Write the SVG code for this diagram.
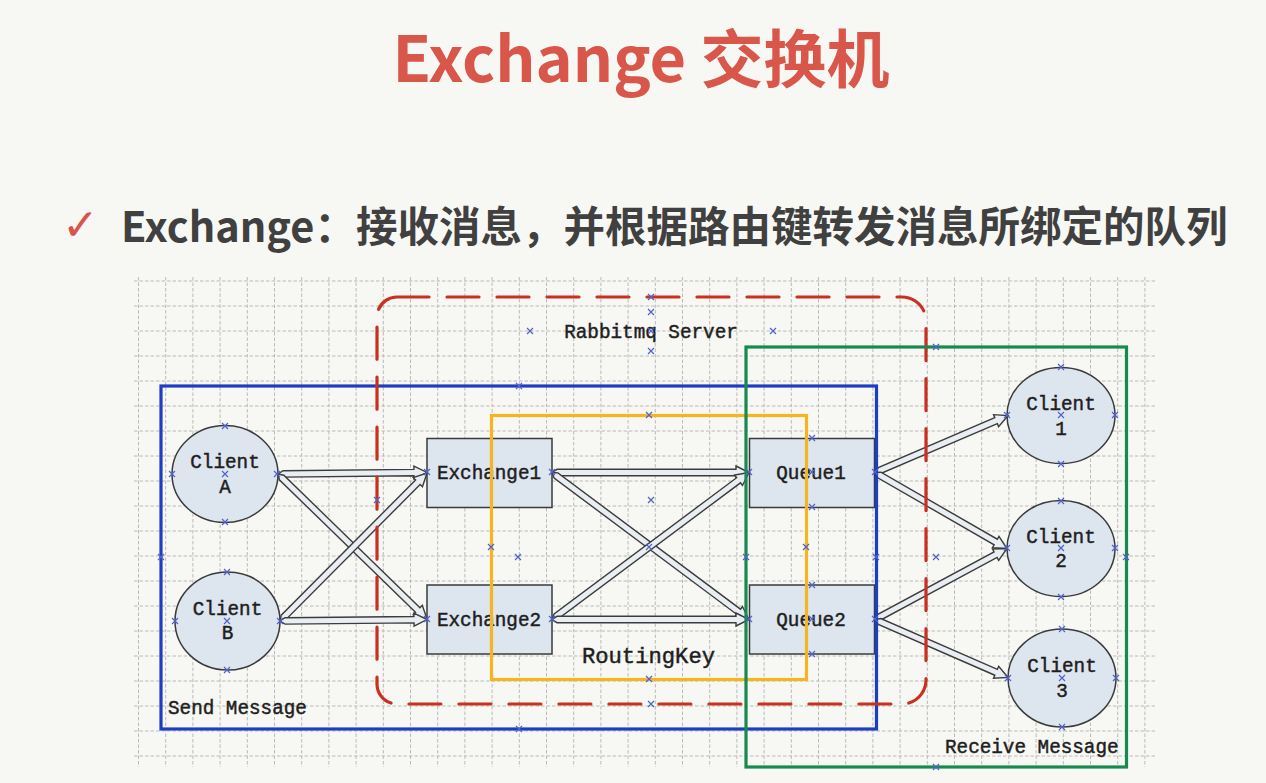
<svg xmlns="http://www.w3.org/2000/svg" xmlns:xlink="http://www.w3.org/1999/xlink" width="1266" height="783" viewBox="0 0 1266 783">
  <style>
    .title { font-family: "Noto Sans CJK SC", "Noto Sans", sans-serif; font-weight: 700; }
    .lbl { font-family: "Liberation Mono", "DejaVu Sans Mono", monospace; font-size: 19.3px; fill: #1e1e1e; stroke: #1e1e1e; stroke-width: 0.45px; }
    .grid { fill: none; stroke: #bababa; stroke-width: 1; stroke-dasharray: 3.5 2; }
    .node { fill: #dde5ee; stroke: #3a3a3a; stroke-width: 1.5; }
    .arrow { fill: #e9eef3; stroke: #3c3c3c; stroke-width: 1.4; stroke-linejoin: miter; }
    .frame { fill: none; stroke-width: 3.2; }
    .mk { fill: none; stroke: #5062cc; stroke-width: 1.2; }
  </style>
  <defs>
    <path id="mk" class="mk" d="M-3,-3L3,3M3,-3L-3,3"/>
  </defs>

  <rect width="1266" height="783" fill="#f7f7f3"/>

  <!-- headings -->
  <g id="heading">
    <text class="title" x="641" y="82" font-size="63" fill="#d9564a" text-anchor="middle">Exchange 交换机</text>
  </g>
  <g id="bullet">
    <text x="62" y="240" font-family="DejaVu Sans, sans-serif" font-size="44" fill="#d9534f">✓</text>
    <text class="title" x="121" y="242" font-size="41.5" fill="#404040">Exchange：接收消息，并根据路由键转发消息所绑定的队列</text>
  </g>

  <!-- dashed grid -->
  <g id="grid">
    <path class="grid" d="M138.5,277V767M165.7,277V767M192.9,277V767M220.1,277V767M247.3,277V767M274.5,277V767M301.7,277V767M328.9,277V767M356.1,277V767M383.3,277V767M410.5,277V767M437.7,277V767M464.9,277V767M492.1,277V767M519.3,277V767M546.5,277V767M573.7,277V767M600.9,277V767M628.1,277V767M655.3,277V767M682.5,277V767M709.7,277V767M736.9,277V767M764.1,277V767M791.3,277V767M818.5,277V767M845.7,277V767M872.9,277V767M900.1,277V767M927.3,277V767M954.5,277V767M981.7,277V767M1008.9,277V767M1036.1,277V767M1063.3,277V767M1090.5,277V767M1117.7,277V767M1144.9,277V767"/>
    <path class="grid" d="M134,281H1156M134,306H1156M134,331H1156M134,356H1156M134,381H1156M134,406H1156M134,431H1156M134,456H1156M134,481H1156M134,506H1156M134,531H1156M134,556H1156M134,581H1156M134,606H1156M134,631H1156M134,656H1156M134,681H1156M134,706H1156M134,731H1156M134,756H1156"/>
  </g>

  <!-- senders -->
  <g id="client-a">
    <ellipse class="node" cx="225" cy="474" rx="53" ry="48.5"/>
    <text class="lbl" x="225" y="468" text-anchor="middle">Client</text>
    <text class="lbl" x="225" y="493" text-anchor="middle">A</text>
  </g>
  <g id="client-b">
    <ellipse class="node" cx="227.5" cy="621" rx="52.5" ry="49"/>
    <text class="lbl" x="227.5" y="615" text-anchor="middle">Client</text>
    <text class="lbl" x="227.5" y="639" text-anchor="middle">B</text>
  </g>

  <!-- exchanges -->
  <g id="exchange1">
    <rect class="node" x="427" y="438.5" width="125" height="69"/>
    <text class="lbl" x="489" y="479" text-anchor="middle">Exchange1</text>
  </g>
  <g id="exchange2">
    <rect class="node" x="427" y="585" width="125" height="69"/>
    <text class="lbl" x="489" y="626" text-anchor="middle">Exchange2</text>
  </g>

  <!-- queues -->
  <g id="queue1">
    <rect class="node" x="749.5" y="438.5" width="125" height="69"/>
    <text class="lbl" x="811" y="479" text-anchor="middle">Queue1</text>
  </g>
  <g id="queue2">
    <rect class="node" x="749.5" y="585" width="125" height="69"/>
    <text class="lbl" x="811" y="626" text-anchor="middle">Queue2</text>
  </g>

  <!-- receivers -->
  <g id="client-1">
    <ellipse class="node" cx="1061" cy="415.5" rx="54" ry="48"/>
    <text class="lbl" x="1061" y="410" text-anchor="middle">Client</text>
    <text class="lbl" x="1061" y="435" text-anchor="middle">1</text>
  </g>
  <g id="client-2">
    <ellipse class="node" cx="1061" cy="548.5" rx="54" ry="48"/>
    <text class="lbl" x="1061" y="543" text-anchor="middle">Client</text>
    <text class="lbl" x="1061" y="567" text-anchor="middle">2</text>
  </g>
  <g id="client-3">
    <ellipse class="node" cx="1062" cy="678" rx="54" ry="49"/>
    <text class="lbl" x="1062" y="672" text-anchor="middle">Client</text>
    <text class="lbl" x="1062" y="697" text-anchor="middle">3</text>
  </g>

  <!-- hollow block arrows, each drawn along +x then placed -->
  <g id="connectors">
    <path class="arrow" transform="translate(278,474) rotate(-0.58)" d="M0,0L5,-3.2H136V-6.5L149,0L136,6.5V3.2H5Z"/>
    <path class="arrow" transform="translate(278,474) rotate(44.22)" d="M0,0L5,-3.2H195V-6.5L208,0L195,6.5V3.2H5Z"/>
    <path class="arrow" transform="translate(280,621) rotate(-45.19)" d="M0,0L5,-3.2H195.6V-6.5L208.6,0L195.6,6.5V3.2H5Z"/>
    <path class="arrow" transform="translate(280,621) rotate(-0.58)" d="M0,0L5,-3.2H134V-6.5L147,0L134,6.5V3.2H5Z"/>
    <path class="arrow" transform="translate(552,472.5)" d="M0,0L5,-3.2H184V-6.5L197,0L184,6.5V3.2H5Z"/>
    <path class="arrow" transform="translate(552,472.5) rotate(36.73)" d="M0,0L5,-3.2H232.8V-6.5L245.8,0L232.8,6.5V3.2H5Z"/>
    <path class="arrow" transform="translate(552,619.5) rotate(-36.73)" d="M0,0L5,-3.2H232.8V-6.5L245.8,0L232.8,6.5V3.2H5Z"/>
    <path class="arrow" transform="translate(552,619.5)" d="M0,0L5,-3.2H184V-6.5L197,0L184,6.5V3.2H5Z"/>
    <path class="arrow" transform="translate(875,472.5) rotate(-23.2)" d="M0,0L5,-3.2H131.7V-6.5L144.7,0L131.7,6.5V3.2H5Z"/>
    <path class="arrow" transform="translate(875,472.5) rotate(29.93)" d="M0,0L5,-3.2H139.3V-6.5L152.3,0L139.3,6.5V3.2H5Z"/>
    <path class="arrow" transform="translate(875,619.5) rotate(-28.27)" d="M0,0L5,-3.2H136.9V-6.5L149.9,0L136.9,6.5V3.2H5Z"/>
    <path class="arrow" transform="translate(875,619.5) rotate(23.56)" d="M0,0L5,-3.2H132.1V-6.5L145.1,0L132.1,6.5V3.2H5Z"/>
  </g>

  <!-- grouping frames -->
  <g id="frame-send">
    <rect class="frame" x="161" y="386" width="715.5" height="343" stroke="#1c3ec4"/>
    <text class="lbl" x="168" y="714">Send Message</text>
  </g>
  <g id="frame-server">
    <path class="frame" stroke="#c9301f" stroke-width="3.6" stroke-dasharray="32 18" stroke-linecap="round" d="M397,297H902A24,24 0 0 1 926,321V680A24,24 0 0 1 902,704H397A20,20 0 0 1 377,684V317A20,20 0 0 1 397,297Z"/>
    <text class="lbl" x="651" y="338" text-anchor="middle">Rabbitmq Server</text>
  </g>
  <g id="frame-routing">
    <rect class="frame" x="491.5" y="415.5" width="315" height="264" stroke="#f6b420"/>
    <text class="lbl" x="648.5" y="663" text-anchor="middle" style="font-size:22.2px">RoutingKey</text>
  </g>
  <g id="frame-receive">
    <rect class="frame" x="746" y="347" width="380.5" height="420" stroke="#178a50"/>
    <text class="lbl" x="945" y="753">Receive Message</text>
  </g>

  <!-- connection points -->
  <g id="connection-points">
    <use xlink:href="#mk" x="225" y="426"/><use xlink:href="#mk" x="225" y="522"/><use xlink:href="#mk" x="172" y="474"/><use xlink:href="#mk" x="277" y="474"/><use xlink:href="#mk" x="225" y="474"/>
    <use xlink:href="#mk" x="227" y="572"/><use xlink:href="#mk" x="227" y="670"/><use xlink:href="#mk" x="175" y="621"/><use xlink:href="#mk" x="280" y="621"/><use xlink:href="#mk" x="227" y="621"/>
    <use xlink:href="#mk" x="1061" y="367"/><use xlink:href="#mk" x="1061" y="464"/><use xlink:href="#mk" x="1007" y="415"/><use xlink:href="#mk" x="1115" y="415"/><use xlink:href="#mk" x="1061" y="415"/>
    <use xlink:href="#mk" x="1061" y="501"/><use xlink:href="#mk" x="1061" y="597"/><use xlink:href="#mk" x="1007" y="548"/><use xlink:href="#mk" x="1115" y="548"/><use xlink:href="#mk" x="1061" y="548"/>
    <use xlink:href="#mk" x="1062" y="629"/><use xlink:href="#mk" x="1062" y="727"/><use xlink:href="#mk" x="1008" y="678"/><use xlink:href="#mk" x="1116" y="678"/><use xlink:href="#mk" x="1062" y="678"/>
    <use xlink:href="#mk" x="427" y="472"/><use xlink:href="#mk" x="552" y="472"/><use xlink:href="#mk" x="427" y="619"/><use xlink:href="#mk" x="552" y="619"/>
    <use xlink:href="#mk" x="749" y="472"/><use xlink:href="#mk" x="812" y="438"/><use xlink:href="#mk" x="812" y="507"/><use xlink:href="#mk" x="812" y="472"/><use xlink:href="#mk" x="875" y="472"/>
    <use xlink:href="#mk" x="749" y="619"/><use xlink:href="#mk" x="812" y="585"/><use xlink:href="#mk" x="812" y="654"/><use xlink:href="#mk" x="812" y="619"/><use xlink:href="#mk" x="875" y="619"/>
    <use xlink:href="#mk" x="519" y="386"/><use xlink:href="#mk" x="519" y="729"/><use xlink:href="#mk" x="161" y="557"/><use xlink:href="#mk" x="876" y="557"/><use xlink:href="#mk" x="518" y="557"/>
    <use xlink:href="#mk" x="651" y="297"/><use xlink:href="#mk" x="651" y="704"/><use xlink:href="#mk" x="377" y="500"/><use xlink:href="#mk" x="651" y="500"/>
    <use xlink:href="#mk" x="649" y="415"/><use xlink:href="#mk" x="649" y="679"/><use xlink:href="#mk" x="491" y="547"/><use xlink:href="#mk" x="806" y="547"/><use xlink:href="#mk" x="649" y="547"/>
    <use xlink:href="#mk" x="936" y="347"/><use xlink:href="#mk" x="936" y="767"/><use xlink:href="#mk" x="746" y="557"/><use xlink:href="#mk" x="1126" y="557"/><use xlink:href="#mk" x="936" y="557"/>
    <use xlink:href="#mk" x="530" y="331"/><use xlink:href="#mk" x="773" y="331"/><use xlink:href="#mk" x="651" y="312"/><use xlink:href="#mk" x="651" y="351"/><use xlink:href="#mk" x="651" y="331"/>
  </g>
</svg>
